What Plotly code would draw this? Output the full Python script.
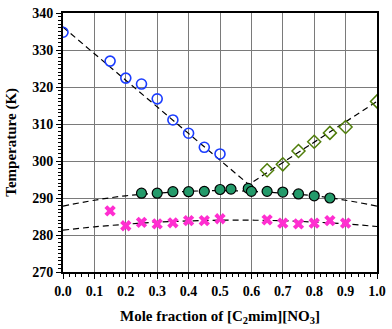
import plotly.graph_objects as go

# blue open circles
x_blue = [0.0, 0.15, 0.2, 0.25, 0.3, 0.35, 0.4, 0.45, 0.5]
t_blue = [334.8, 327.0, 322.4, 320.8, 316.8, 311.1, 307.5, 303.7, 301.9]
# olive open diamonds
x_dia = [0.65, 0.7, 0.75, 0.8, 0.85, 0.9, 1.0]
t_dia = [297.5, 299.1, 302.7, 305.2, 307.6, 309.2, 316.1]
# green filled circles
x_grn = [0.25, 0.3, 0.35, 0.4, 0.45, 0.5, 0.535, 0.59, 0.6, 0.65, 0.7, 0.75, 0.8, 0.85]
t_grn = [291.3, 291.3, 291.7, 291.7, 291.8, 292.3, 292.4, 292.6, 291.8, 291.8, 291.6, 291.1, 290.6, 290.0]
# magenta crosses
x_pink = [0.15, 0.2, 0.25, 0.3, 0.35, 0.4, 0.45, 0.5, 0.65, 0.7, 0.75, 0.8, 0.85, 0.9]
t_pink = [286.5, 282.5, 283.4, 283.0, 283.3, 283.9, 283.9, 284.4, 284.1, 283.2, 283.0, 283.2, 283.9, 283.2]

# dashed fit lines
x_fit_blue = [0.0, 0.62]
t_fit_blue = [336.2, 291.6]
x_fit_dia = [0.58, 1.0]
t_fit_dia = [293.0, 316.1]
x_fit = [0.0, 0.1, 0.2, 0.3, 0.4, 0.5, 0.6, 0.7, 0.8, 0.9, 1.0]
t_fit_grn = [287.8, 289.4, 290.6, 291.3, 291.8, 292.0, 291.8, 291.3, 290.6, 289.4, 287.8]
t_fit_pink = [281.3, 282.2, 282.9, 283.45, 283.8, 284.0, 284.0, 283.85, 283.5, 283.0, 282.3]

dash = dict(color="black", width=1.2, dash="6px,4px")

fig = go.Figure()
fig.add_trace(go.Scatter(x=x_fit_blue, y=t_fit_blue, mode="lines", line=dash))
fig.add_trace(go.Scatter(x=x_fit_dia, y=t_fit_dia, mode="lines", line=dash))
fig.add_trace(go.Scatter(x=x_fit, y=t_fit_grn, mode="lines", line=dict(dash, shape="spline")))
fig.add_trace(go.Scatter(x=x_fit, y=t_fit_pink, mode="lines", line=dict(dash, shape="spline")))

fig.add_trace(go.Scatter(x=x_blue, y=t_blue, mode="markers",
                         marker=dict(symbol="circle-open", size=10, color="#1a3cff", line=dict(width=1.6))))
fig.add_trace(go.Scatter(x=x_dia, y=t_dia, mode="markers",
                         marker=dict(symbol="diamond-open", size=10, color="#4f7d0a", line=dict(width=1.5))))
fig.add_trace(go.Scatter(x=x_grn, y=t_grn, mode="markers",
                         marker=dict(symbol="circle", size=10, color="#239a6a", line=dict(width=1.2, color="black"))))
fig.add_trace(go.Scatter(x=x_pink, y=t_pink, mode="markers",
                         marker=dict(symbol="x", size=10, color="#ff2ed0", line=dict(width=0))))

serif = "Liberation Serif"
fig.update_layout(
    width=392, height=329,
    margin=dict(l=63, r=10, t=6, b=57),
    plot_bgcolor="white", paper_bgcolor="white",
    showlegend=False,
    font=dict(family=serif, size=14, color="black"),
    xaxis=dict(
        range=[0, 1], dtick=0.1, tickformat=".1f",
        showgrid=True, gridcolor="#7a7a7a", gridwidth=1,
        showline=True, linecolor="black", linewidth=2, mirror=True,
        ticks="outside", ticklen=5, tickcolor="black",
        minor=dict(dtick=0.02, ticks="outside", ticklen=3, tickcolor="black", showgrid=False),
        tickfont=dict(family=serif, size=14, color="black", weight="bold"),
        title=dict(text="<b>Mole fraction of [C<sub>2</sub>mim][NO<sub>3</sub>]</b>", standoff=13,
                   font=dict(family=serif, size=15)),
        zeroline=False,
    ),
    yaxis=dict(
        range=[270, 340], dtick=10,
        showgrid=True, gridcolor="#7a7a7a", gridwidth=1,
        showline=True, linecolor="black", linewidth=2, mirror=True,
        ticks="outside", ticklen=5, tickcolor="black",
        minor=dict(dtick=1, ticks="outside", ticklen=3, tickcolor="black", showgrid=False),
        tickfont=dict(family=serif, size=14, color="black", weight="bold"),
        zeroline=False,
    ),
    annotations=[dict(
        text="<b>Temperature (K)</b>", textangle=-90,
        xref="paper", yref="paper", x=-0.165, y=0.5, xanchor="center", yanchor="middle",
        showarrow=False, font=dict(family=serif, size=15, color="black"),
    )],
)

fig.write_html("out.html", config={"displayModeBar": False},
               post_script="document.body.style.margin='0';")
